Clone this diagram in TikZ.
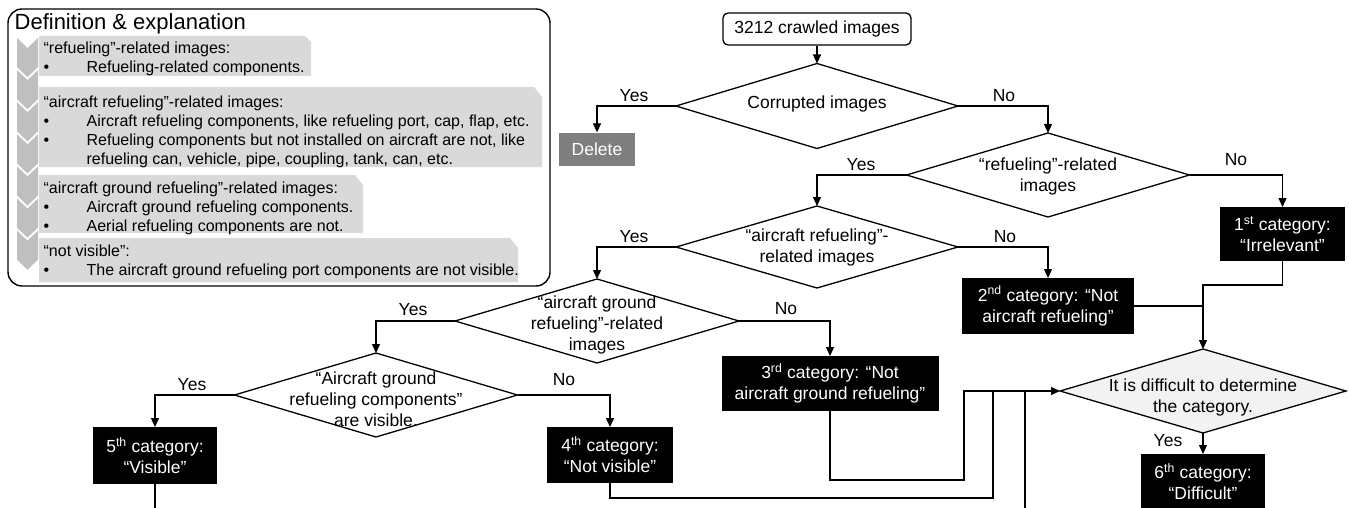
\documentclass[tikz,border=0pt]{standalone}
\usepackage{fontspec}
\setmainfont{Liberation Sans}
\usetikzlibrary{shapes.geometric,arrows.meta}
\definecolor{chevgray}{RGB}{191,191,191}
\definecolor{boxgray}{RGB}{217,217,217}
\definecolor{delgray}{RGB}{127,127,127}
\definecolor{diafill}{RGB}{242,242,242}
\newcommand{\fcfont}{\fontsize{17.5}{21}\selectfont}
\newcommand{\lgfont}{\fontsize{16}{19}\selectfont}
\begin{document}
\begin{tikzpicture}[x=1pt,y=-1pt,
  line width=1.3pt,
  arr/.style={-{Triangle[length=9pt,width=8pt]}},
  dia/.style={draw, shape=diamond, inner sep=0pt, outer sep=0pt, fill=white},
  cat/.style={fill=black, text=white, inner sep=0pt, outer sep=0pt, font=\fcfont, align=center},
  lbl/.style={font=\fcfont, inner sep=0pt},
  dtxt/.style={font=\fcfont, align=center, inner sep=0pt},
  lgtxt/.style={font=\lgfont, anchor=north west, inner sep=0pt},
]
\clip (0,0) rectangle (1349,508);
\fill[white] (0,0) rectangle (1349,508);

% ---------- legend ----------
\draw[line width=1.4pt, rounded corners=14pt] (8,9) rectangle (550,286);
\node[anchor=base west, inner sep=0pt, font=\fontsize{22}{26}\selectfont] (lgtitle) at (14,30) {Definition \& explanation};
\foreach \i in {0,...,6} {
  \pgfmathsetmacro{\yy}{38+\i*32.1}
  \fill[chevgray] (17,\yy) -- (27.5,\yy+10) -- (38,\yy) -- (38,\yy+29.1) -- (27.5,\yy+39.1) -- (17,\yy+29.1) -- cycle;
}
\fill[boxgray] (39,36) -- (305,36) -- (311,42) -- (311,76) -- (39,76) -- cycle;
\fill[boxgray] (39,87) -- (534,87) -- (542,97) -- (542,167) -- (39,167) -- cycle;
\fill[boxgray] (39,175) -- (355,175) -- (363,185) -- (363,233) -- (39,233) -- cycle;
\fill[boxgray] (39,238) -- (510,238) -- (518,248) -- (518,282) -- (39,282) -- cycle;

\node[lgtxt] (lg1) at (43,39.2) {\begin{tabular}{@{}p{43pt}@{}l@{}}
\multicolumn{2}{@{}l@{}}{“refueling”-related images:}\\
\textbullet & Refueling-related components.
\end{tabular}};
\node[lgtxt] (lg2) at (43,93.4) {\begin{tabular}{@{}p{43pt}@{}l@{}}
\multicolumn{2}{@{}l@{}}{“aircraft refueling”-related images:}\\
\textbullet & Aircraft refueling components, like refueling port, cap, flap, etc.\\
\textbullet & Refueling components but not installed on aircraft are not, like\\
 & refueling can, vehicle, pipe, coupling, tank, can, etc.
\end{tabular}};
\node[lgtxt] (lg3) at (43,179.4) {\begin{tabular}{@{}p{43pt}@{}l@{}}
\multicolumn{2}{@{}l@{}}{“aircraft ground refueling”-related images:}\\
\textbullet & Aircraft ground refueling components.\\
\textbullet & Aerial refueling components are not.
\end{tabular}};
\node[lgtxt] (lg4) at (43,242.4) {\begin{tabular}{@{}p{43pt}@{}l@{}}
\multicolumn{2}{@{}l@{}}{“not visible”:}\\
\textbullet & The aircraft ground refueling port components are not visible.
\end{tabular}};

% ---------- flowchart nodes ----------
\node[draw, rounded corners=5pt, minimum width=188pt, minimum height=32pt, inner sep=0pt, font=\fcfont] (start) at (817,29) {3212 crawled images};
\node[fill=delgray, text=white, minimum width=76pt, minimum height=33pt, inner sep=0pt, font=\fcfont] (del) at (597,149.5) {Delete};

\node[dia, minimum width=282pt, minimum height=85pt] (d1) at (817,106) {};
\node[dtxt] (t1) at (817,104) {Corrupted images};
\node[dia, minimum width=283pt, minimum height=84pt] (d2) at (1048,175) {};
\node[dtxt] (t2) at (1048,176.5) {“refueling”-related\\images};
\node[dia, minimum width=282pt, minimum height=82pt] (d3) at (817,247) {};
\node[dtxt] (t3) at (817,247.5) {“aircraft refueling”-\\related images};
\node[dia, minimum width=284pt, minimum height=84pt] (d4) at (597,321) {};
\node[dtxt] (t4) at (597,325) {“aircraft ground\\refueling”-related\\images};
\node[dia, minimum width=283pt, minimum height=84pt] (d6) at (376,395) {};
\node[dtxt] (t6) at (376,399) {“Aircraft ground\\refueling components”\\are visible.};
\node[dia, fill=diafill, minimum width=286pt, minimum height=84pt] (d5) at (1203,391) {};
\node[dtxt] (t5) at (1203,397) {It is difficult to determine\\the category.};

\node[cat, minimum width=125pt, minimum height=54pt] (c1) at (1282.5,234) {1\textsuperscript{st} category:\\“Irrelevant”};
\node[cat, minimum width=172pt, minimum height=56pt] (c2) at (1048,306) {2\textsuperscript{nd} category: “Not\\aircraft refueling”};
\node[cat, minimum width=217pt, minimum height=55pt] (c3) at (830,383.5) {3\textsuperscript{rd} category: “Not\\aircraft ground refueling”};
\node[cat, minimum width=126pt, minimum height=56pt] (c4) at (610,455) {4\textsuperscript{th} category:\\“Not visible”};
\node[cat, minimum width=124pt, minimum height=57pt] (c5) at (155,455.5) {5\textsuperscript{th} category:\\“Visible”};
\node[cat, minimum width=124pt, minimum height=56pt] (c6) at (1203,482) {6\textsuperscript{th} category:\\“Difficult”};

% ---------- labels ----------
\node[lbl] (y1) at (634,96) {Yes};
\node[lbl] (n1) at (1004,96) {No};
\node[lbl] (y2) at (861,165) {Yes};
\node[lbl] (n2) at (1236,160) {No};
\node[lbl] (y3) at (634,237) {Yes};
\node[lbl] (n3) at (1005,237) {No};
\node[lbl] (y4) at (413,310) {Yes};
\node[lbl] (n4) at (786,309) {No};
\node[lbl] (y6) at (192,385) {Yes};
\node[lbl] (n6) at (564,380) {No};
\node[lbl] (y5) at (1168,441) {Yes};

% ---------- connectors ----------
\draw[arr] (start.south) -- (d1.north);
\draw[arr] (d1.west) -| (del.north);
\draw[arr] (d1.east) -| (d2.north);
\draw[arr] (d2.west) -| (d3.north);
\draw[arr] (d2.east) -| (c1.north);
\draw[arr] (d3.west) -| (d4.north);
\draw[arr] (d3.east) -| (c2.north);
\draw[arr] (d4.west) -| (d6.north);
\draw[arr] (d4.east) -| (c3.north);
\draw[arr] (d6.west) -| (c5.north);
\draw[arr] (d6.east) -| (c4.north);
\coordinate (j1) at (1203,285);
\draw[arr] (c1.south) |- (j1) -- (d5.north);
\draw (c2.east) -- (c2.east -| j1);
\coordinate (j3) at (964,480);
\draw[arr] (c3.south) |- (j3) |- (d5.west);
\coordinate (j4) at (993,498);
\draw (c4.south) |- (j4) -- (j4 |- d5.west);
\coordinate (j5) at (1025,520);
\draw (c5.south) |- (j5) -- (j5 |- d5.west);
\draw[arr] (d5.south) -- (c6.north);
\end{tikzpicture}
\end{document}
